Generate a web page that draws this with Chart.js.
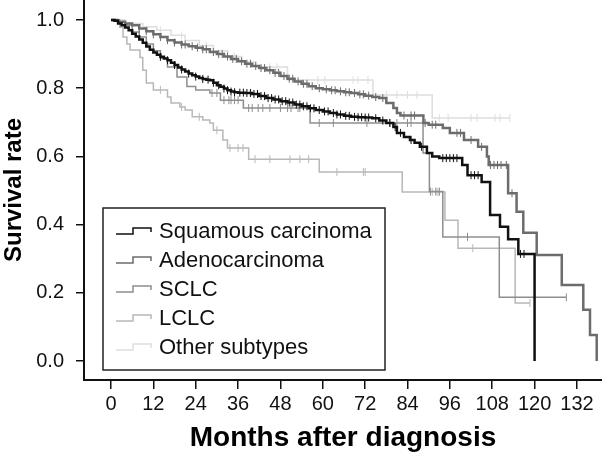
<!DOCTYPE html>
<html>
<head>
<meta charset="utf-8">
<script src="https://cdn.jsdelivr.net/npm/chart.js@4.4.1/dist/chart.umd.min.js"></script>
<style>
  html, body { margin: 0; padding: 0; background: #fff; }
  #wrap { width: 602px; height: 457px; }
</style>
</head>
<body>
<div id="wrap"><canvas id="kmChart"></canvas></div>
<script>
// Kaplan-Meier survival by histological subtype
const seriesNames = ['Squamous carcinoma', 'Adenocarcinoma', 'SCLC', 'LCLC', 'Other subtypes'];
const seriesColors = ['#111111', '#6c6c6c', '#8e8e8e', '#b8b8b8', '#dedede'];
const seriesWidths = [2.5, 2.5, 1.5, 1.5, 1.5];

const xTicks = [0, 12, 24, 36, 48, 60, 72, 84, 96, 108, 120, 132];
const yTicks = [0, 0.2, 0.4, 0.6, 0.8, 1.0];

// months at which the curve drops, and survival right after the drop
const squamousTimes = [1, 2, 3, 4, 5, 6, 7, 8, 9, 10, 11, 12, 13, 14, 15, 16, 17, 18, 19, 20, 21, 22, 23, 24, 25, 26, 27, 28, 29, 30, 31, 32, 33, 34, 35, 36, 38, 40, 42, 44, 46, 48, 50, 52, 54, 56, 58, 60, 62, 64, 66, 68, 70, 72, 74, 76, 78, 80, 81, 83, 84.7, 86, 87.5, 89.5, 91, 93, 99.5, 101, 105, 107.4, 110.2, 112.5, 115.4, 120];
const squamousSurv = [0.998, 0.99, 0.985, 0.978, 0.97, 0.96, 0.952, 0.943, 0.933, 0.922, 0.913, 0.905, 0.898, 0.892, 0.887, 0.882, 0.875, 0.868, 0.861, 0.855, 0.849, 0.843, 0.838, 0.834, 0.83, 0.827, 0.825, 0.823, 0.816, 0.809, 0.804, 0.799, 0.794, 0.79, 0.788, 0.787, 0.786, 0.783, 0.777, 0.771, 0.767, 0.762, 0.758, 0.752, 0.747, 0.741, 0.736, 0.732, 0.727, 0.723, 0.719, 0.716, 0.715, 0.714, 0.712, 0.705, 0.698, 0.686, 0.669, 0.657, 0.648, 0.64, 0.628, 0.61, 0.6, 0.595, 0.575, 0.545, 0.525, 0.428, 0.394, 0.357, 0.314, 0];
const squamousCensor = [14, 16, 18, 20, 22, 24, 26, 27.5, 29, 30.5, 32, 33, 34, 35, 36.5, 37.5, 38.5, 39.5, 40.5, 41.5, 42.5, 43.5, 44.5, 45.5, 46.5, 47.5, 48.5, 49.5, 50.5, 51.5, 52.5, 53.5, 54.5, 55.5, 56.5, 57.5, 59, 60.5, 61.5, 63, 64, 65, 66.5, 67.5, 69, 70, 71, 72, 73, 75, 77, 79, 80.5, 82, 85, 88, 94, 95, 96, 97, 98, 102, 103, 104, 116, 117];

const adenoTimes = [2, 4, 6, 8, 10, 12, 14, 16, 18, 20, 22, 24, 26, 28, 30, 32, 34, 36, 38, 40, 42, 44, 46, 48, 50, 52, 54, 56, 58, 60, 62, 64, 66, 68, 70, 72, 74, 76, 78, 80, 81, 82, 88.5, 90, 94, 96, 100, 104, 106.5, 107, 112.5, 114.9, 116.8, 120.6, 127.7, 133.8, 135.7, 137.6];
const adenoSurv = [0.995, 0.99, 0.985, 0.975, 0.967, 0.958, 0.95, 0.941, 0.934, 0.928, 0.923, 0.919, 0.914, 0.906, 0.9, 0.893, 0.886, 0.879, 0.872, 0.865, 0.859, 0.853, 0.845, 0.836, 0.828, 0.82, 0.813, 0.806, 0.8, 0.797, 0.794, 0.791, 0.788, 0.786, 0.782, 0.778, 0.774, 0.771, 0.757, 0.742, 0.727, 0.72, 0.698, 0.693, 0.683, 0.669, 0.648, 0.628, 0.6, 0.575, 0.492, 0.438, 0.376, 0.311, 0.223, 0.15, 0.076, 0];
const adenoCensor = [8, 10, 12, 14, 16, 18, 20, 21, 23, 24.5, 26, 27, 29, 30.5, 31.5, 33, 34.5, 35.5, 37, 38.5, 39.5, 41, 42.5, 43.5, 45, 46.5, 47.5, 49, 50.5, 51.5, 53, 54.5, 55.5, 57, 59, 61, 62.5, 63.5, 65, 66.5, 67.5, 69, 70.5, 71.5, 73, 75, 77, 83, 85, 86, 89, 91, 92, 98, 99, 102, 105, 107.5, 108.5, 109.5, 110.5, 112, 113.6];

const sclcTimes = [2, 4, 6, 8, 10, 12, 14, 16, 18.7, 21.5, 24, 28, 31, 37.5, 56.4, 88.4, 90.2, 94, 110];
const sclcSurv = [0.995, 0.985, 0.965, 0.95, 0.93, 0.91, 0.888, 0.862, 0.833, 0.805, 0.795, 0.786, 0.765, 0.742, 0.698, 0.61, 0.497, 0.364, 0.187];
const sclcCensor = [28.6, 30, 32, 33.4, 34, 35, 36, 39, 40, 41.7, 43, 45, 48, 50, 51, 53, 53.5, 59, 63, 72.5, 79, 81, 84, 85, 90.5, 92, 93, 101, 129];

const lclcTimes = [2.5, 3.4, 4.5, 5.4, 8.2, 9, 10, 12, 16, 17, 19.5, 21, 23, 26, 28, 29, 31.7, 33, 39, 59, 82.5, 94.6, 98.3, 114.5];
const lclcSurv = [0.979, 0.95, 0.93, 0.912, 0.89, 0.853, 0.815, 0.795, 0.774, 0.757, 0.745, 0.736, 0.716, 0.707, 0.698, 0.677, 0.648, 0.625, 0.592, 0.554, 0.496, 0.413, 0.331, 0.17];
const lclcCensor = [14, 20, 25, 30, 33.7, 36, 37.4, 40.8, 45, 50.7, 53.5, 56, 64, 71.5, 72, 91, 92.4, 93, 102.5, 118.7];

const otherTimes = [4, 9, 13, 17, 21, 25, 29, 33, 37, 41, 50, 74.2, 91];
const otherSurv = [0.99, 0.98, 0.97, 0.955, 0.94, 0.925, 0.91, 0.893, 0.877, 0.862, 0.824, 0.78, 0.713];
const otherCensor = [14, 20, 27, 35, 45, 47, 58.6, 60.6, 68.6, 70, 72.8, 78, 81, 84, 86.7, 93, 95.5, 102, 103.7, 108.8, 110.2, 113];

// merge drops and censored times into one step table
function buildCurve(times, surv, censor) {
  const pts = [{ x: 0, y: 1, c: false }];
  times.forEach((t, i) => pts.push({ x: t, y: surv[i], c: false }));
  censor.forEach(t => pts.push({ x: t, y: null, c: true }));
  pts.sort((a, b) => a.x - b.x || (a.c - b.c));
  let cur = 1;
  pts.forEach(p => { if (p.c) p.y = cur; else cur = p.y; });
  return pts;
}

const curves = [
  buildCurve(squamousTimes, squamousSurv, squamousCensor),
  buildCurve(adenoTimes, adenoSurv, adenoCensor),
  buildCurve(sclcTimes, sclcSurv, sclcCensor),
  buildCurve(lclcTimes, lclcSurv, lclcCensor),
  buildCurve(otherTimes, otherSurv, otherCensor)
];

const fontFamily = "'Liberation Sans', Arial, sans-serif";

// legend box drawn inside the plot, like the original
const boxLegend = {
  id: 'boxLegend',
  afterDatasetsDraw(chart) {
    const ctx = chart.ctx;
    ctx.save();
    ctx.fillStyle = '#fff';
    ctx.fillRect(103, 208, 282, 162);
    ctx.strokeStyle = '#222';
    ctx.lineWidth = 1.5;
    ctx.strokeRect(103, 208, 282, 162);
    ctx.font = '22px ' + fontFamily;
    ctx.textBaseline = 'middle';
    seriesNames.forEach((name, i) => {
      const y = 231 + i * 29;
      ctx.strokeStyle = seriesColors[i];
      ctx.lineWidth = 1.5;
      ctx.beginPath();
      ctx.moveTo(116, y + 3);
      ctx.lineTo(133, y + 3);
      ctx.lineTo(133, y - 3);
      ctx.lineTo(151, y - 3);
      ctx.lineTo(151, y + 1);
      ctx.stroke();
      ctx.fillStyle = '#111';
      ctx.fillText(name, 159, y + 1);
    });
    ctx.restore();
  }
};

const ctx = document.getElementById('kmChart').getContext('2d');
const kmChart = new Chart(ctx, {
  type: 'line',
  data: {
    datasets: curves.map((pts, i) => ({
      label: seriesNames[i],
      data: pts,
      stepped: 'before',
      borderColor: seriesColors[i],
      borderWidth: seriesWidths[i],
      fill: false,
      pointStyle: 'line',
      pointRotation: 90,
      pointRadius: c => (c.raw && c.raw.c ? 4 : 0),
      pointBorderColor: seriesColors[i],
      pointBorderWidth: 1,
      pointHoverRadius: 0
    }))
  },
  options: {
    responsive: true,
    maintainAspectRatio: false,
    animation: false,
    devicePixelRatio: 1,
    events: [],
    layout: { padding: 0, autoPadding: false },
    plugins: {
      legend: { display: false },
      tooltip: { enabled: false }
    },
    scales: {
      x: {
        type: 'linear',
        min: -7.65,
        max: 139.1,
        afterBuildTicks: s => { s.ticks = xTicks.map(v => ({ value: v })); },
        afterFit: s => { s.height = 77; s.paddingLeft = 0; s.paddingRight = 0; },
        grid: { drawOnChartArea: false, drawTicks: true, tickLength: 9, color: '#111', lineWidth: 1.5 },
        border: { display: true, color: '#111', width: 2 },
        ticks: { color: '#111', font: { size: 20, family: fontFamily }, padding: 3, maxRotation: 0, autoSkip: false },
        title: {
          display: true,
          text: 'Months after diagnosis',
          color: '#000',
          font: { size: 28, weight: 'bold', family: fontFamily },
          padding: { top: 0, bottom: 2 }
        }
      },
      y: {
        min: -0.0557,
        max: 1.0587,
        afterBuildTicks: s => { s.ticks = yTicks.map(v => ({ value: v })); },
        afterFit: s => { s.width = 84; s.paddingTop = 0; s.paddingBottom = 0; },
        grid: { drawOnChartArea: false, drawTicks: true, tickLength: 8, color: '#111', lineWidth: 1.5 },
        border: { display: true, color: '#111', width: 2 },
        ticks: { color: '#111', font: { size: 20, family: fontFamily }, padding: 12, callback: v => v.toFixed(1) },
        title: {
          display: true,
          text: 'Survival rate',
          color: '#000',
          font: { size: 24, weight: 'bold', family: fontFamily },
          padding: 0
        }
      }
    }
  },
  plugins: [boxLegend]
});
</script>
</body>
</html>
